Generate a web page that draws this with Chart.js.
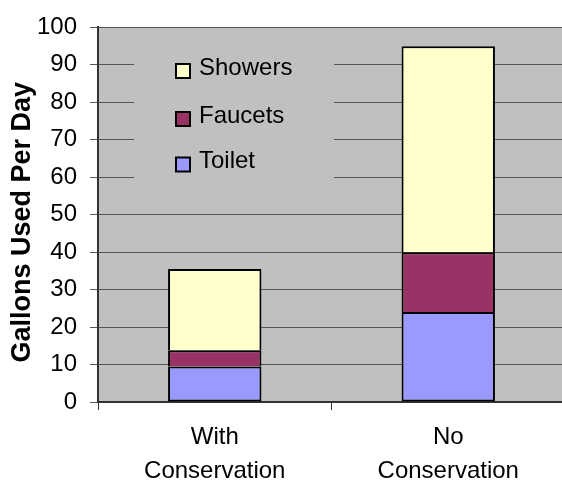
<!DOCTYPE html>
<html>
<head>
<meta charset="utf-8">
<script src="https://cdn.jsdelivr.net/npm/chart.js@4/dist/chart.umd.min.js"></script>
<style>
  html, body { margin: 0; padding: 0; background: #fff; overflow: hidden; }
  #wrap { width: 570px; height: 481px; }
</style>
</head>
<body>
<div id="wrap"><canvas id="chart" width="570" height="481"></canvas></div>
<script>
  // water use, gallons per day
  const categories = [['With', 'Conservation'], ['No', 'Conservation']];
  const toilet = [9.5, 24];
  const faucets = [4.3, 16];
  const showers = [21.7, 55];
  const yTicks = [0, 10, 20, 30, 40, 50, 60, 70, 80, 90, 100];

  const FONT = '"Liberation Sans", Arial, sans-serif';

  // grey plot background like the old Excel chart
  const plotBg = {
    id: 'plotBg',
    beforeDraw(chart) {
      const a = chart.chartArea, ctx = chart.ctx;
      ctx.save();
      ctx.fillStyle = '#C0C0C0';
      ctx.fillRect(a.left, a.top, a.right - a.left, a.bottom - a.top);
      ctx.restore();
    }
  };

  // legend sits inside the plot, reversed order, on its own grey patch
  const insideLegend = {
    id: 'insideLegend',
    afterDraw(chart) {
      const ctx = chart.ctx;
      const sets = chart.data.datasets.slice().reverse();
      ctx.save();
      ctx.fillStyle = '#C0C0C0';
      ctx.fillRect(134, 40, 200, 155);
      ctx.font = '24px ' + FONT;
      ctx.textBaseline = 'middle';
      ctx.textAlign = 'left';
      const rows = [71, 119, 164.5];
      sets.forEach((ds, i) => {
        const cy = rows[i];
        ctx.fillStyle = ds.backgroundColor;
        ctx.fillRect(176, cy - 7, 14, 14);
        ctx.lineWidth = 2;
        ctx.strokeStyle = '#000';
        ctx.strokeRect(176, cy - 7, 14, 14);
        ctx.fillStyle = '#000';
        ctx.fillText(ds.label, 199, cy - 3);
      });
      ctx.restore();
    }
  };

  const seg = { top: 2, left: 2, right: 2, bottom: 0 };

  new Chart(document.getElementById('chart'), {
    type: 'bar',
    data: {
      labels: categories,
      datasets: [
        { label: 'Toilet', data: toilet, backgroundColor: '#9999FF', borderWidth: 2 },
        { label: 'Faucets', data: faucets, backgroundColor: '#993366', borderWidth: seg },
        { label: 'Showers', data: showers, backgroundColor: '#FFFFCC', borderWidth: seg }
      ].map(d => Object.assign(d, { borderColor: '#000', borderSkipped: false, categoryPercentage: 1, barPercentage: 0.4 }))
    },
    options: {
      responsive: false,
      animation: false,
      layout: { padding: { left: 0, top: 25, right: 5, bottom: 0 } },
      plugins: { legend: { display: false }, tooltip: { enabled: false } },
      scales: {
        x: {
          stacked: true,
          grid: { drawOnChartArea: false, drawTicks: true, tickLength: 8, color: '#333', offset: true },
          border: { color: '#333', width: 2 },
          ticks: { color: '#000', padding: 10, font: { family: FONT, size: 24, lineHeight: 1.42 } },
          afterFit(scale) { scale.height = 79; }
        },
        y: {
          stacked: true,
          min: 0,
          max: 100,
          afterBuildTicks(scale) { scale.ticks = yTicks.map(v => ({ value: v })); },
          grid: { color: '#555', lineWidth: 1, tickLength: 8 },
          border: { color: '#333', width: 2 },
          ticks: { color: '#000', padding: 13, font: { family: FONT, size: 24 } },
          title: {
            display: true,
            text: 'Gallons Used Per Day  ',
            color: '#000',
            padding: { top: 6, bottom: 0 },
            font: { family: FONT, size: 27, weight: 'bold', lineHeight: 1.2 }
          },
          afterFit(scale) { scale.width = 98; }
        }
      }
    },
    plugins: [plotBg, insideLegend]
  });
</script>
</body>
</html>
